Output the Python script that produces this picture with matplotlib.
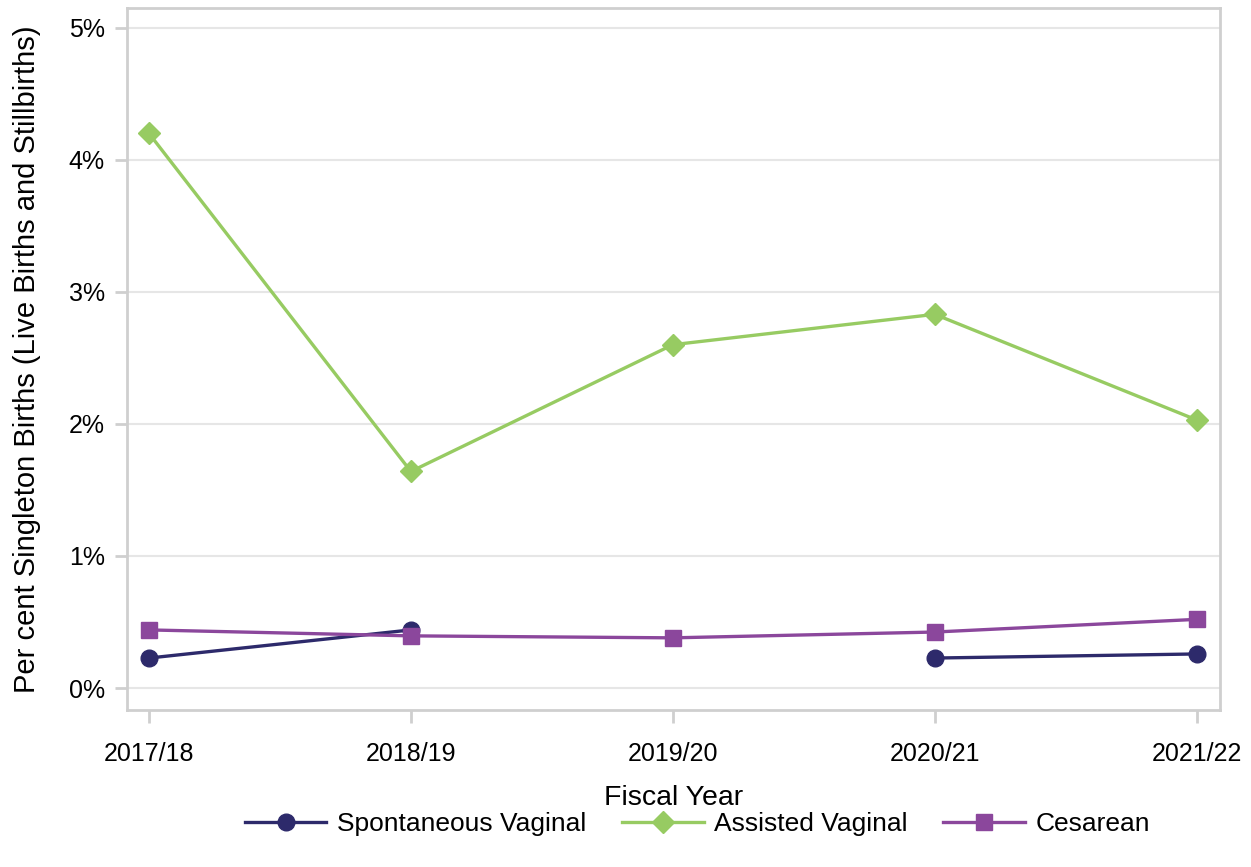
import numpy as np
import matplotlib
matplotlib.use("Agg")
import matplotlib.pyplot as plt
from matplotlib.ticker import FuncFormatter

plt.rcParams['font.family'] = ['Liberation Sans', 'DejaVu Sans']

years = ['2017/18', '2018/19', '2019/20', '2020/21', '2021/22']
spontaneous = [0.227, 0.44, np.nan, 0.227, 0.258]
assisted = [4.20, 1.64, 2.60, 2.83, 2.03]
cesarean = [0.44, 0.395, 0.38, 0.424, 0.52]

c_spon = '#2d2a6b'
c_assist = '#97cb62'
c_ces = '#8b479c'
frame = '#cfcfcf'

fig = plt.figure(figsize=(12.51, 8.67), dpi=100)
ax = fig.add_axes([0.1015, 0.181, 0.8735, 0.8098])

x = np.arange(len(years))
ax.plot(x, spontaneous, '-o', color=c_spon, lw=2.4, ms=12, label='Spontaneous Vaginal')
ax.plot(x, assisted, '-D', color=c_assist, lw=2.4, ms=11, label='Assisted Vaginal')
ax.plot(x, cesarean, '-s', color=c_ces, lw=2.4, ms=11, label='Cesarean')

ax.set_xlim(-0.084, 4.088)
ax.set_ylim(-0.167, 5.15)
ax.set_xticks(x)
ax.set_xticklabels(years)
ax.set_yticks([0, 1, 2, 3, 4, 5])
ax.yaxis.set_major_formatter(FuncFormatter(lambda v, p: '%d%%' % v))
ax.grid(axis='y', color='#e6e6e6', lw=1.5)
ax.set_axisbelow(True)
for s in ax.spines.values():
    s.set_color(frame)
    s.set_linewidth(2)
ax.tick_params(axis='both', colors=frame, labelcolor='black', labelsize=18,
               width=2, length=9)
ax.tick_params(axis='x', pad=14)
ax.tick_params(axis='y', pad=7)

ax.set_xlabel('Fiscal Year', fontsize=20.5, labelpad=14)
ax.set_ylabel('Per cent Singleton Births (Live Births and Stillbirths)', fontsize=21, labelpad=20)

ax.legend(loc='upper center', bbox_to_anchor=(0.522, -0.112), ncol=3, frameon=False,
          fontsize=19, handlelength=3.1, columnspacing=1.35, handletextpad=0.4)

fig.savefig('out.png', dpi=100)
